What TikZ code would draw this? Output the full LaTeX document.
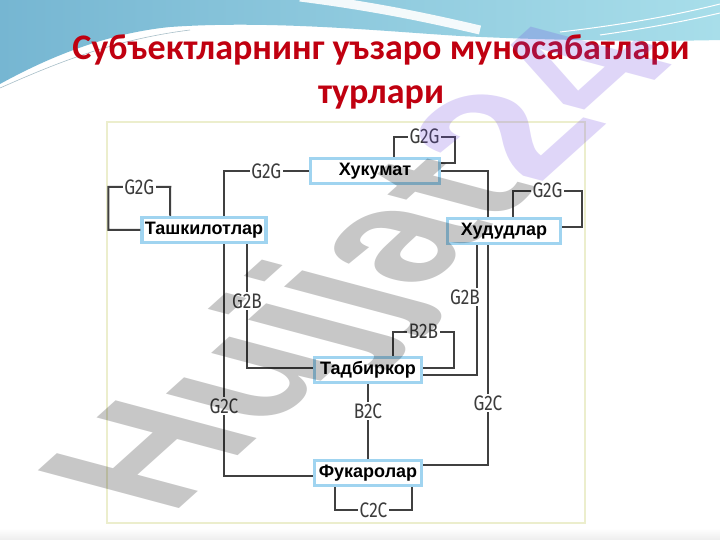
\documentclass[tikz,border=0pt]{standalone}
\usepackage{fontspec}
\setmainfont{Liberation Sans}
\newfontfamily\titlefont{Carlito}
\newfontfamily\tagfont[FakeStretch=0.82]{Fira Sans}
\definecolor{boxblue}{RGB}{160,212,240}
\definecolor{linecol}{RGB}{64,64,64}
\definecolor{tagcol}{RGB}{60,60,60}
\definecolor{titlered}{RGB}{192,0,16}
\definecolor{framecol}{RGB}{236,238,205}
\definecolor{waveleft}{RGB}{118,182,210}
\definecolor{waveright}{RGB}{168,222,234}
\definecolor{wmpurple}{RGB}{110,70,225}

\begin{document}
\begin{tikzpicture}[x=1pt, y=-1pt,
    box/.style={draw=boxblue, line width=3.5pt, fill=white, minimum height=25pt, inner sep=2pt, font=\bfseries\fontsize{18}{18}\selectfont},
    tag/.style={fill=white, text=tagcol, inner sep=1.5pt, font=\tagfont\fontsize{21}{21}\selectfont},
    link/.style={draw=linecol, line width=2pt}]
    \useasboundingbox (0,0) rectangle (720,540);
    \fill[white] (0,0) rectangle (720,540);
    \shade[top color=white, bottom color=black!7] (0,528) rectangle (720,540);

    % slide header wave
    \shade[left color=waveleft, right color=waveright] (0,0) -- (720,0) -- (720,40) .. controls (640,42) and (540,40) .. (460,36) .. controls (380,31) and (270,20) .. (170,27) .. controls (100,34) and (40,62) .. (0,84) -- cycle;
    \draw[waveleft!70!black, line width=0.6pt, opacity=0.5] (0,88) .. controls (50,66) and (110,40) .. (190,30);
    \draw[white, line width=9pt, opacity=0.9] (300,-3) .. controls (370,6) and (420,16) .. (480,30);
    \draw[white, line width=1pt] (560,32) .. controls (630,24) and (680,14) .. (720,4);
    \draw[white, line width=1pt] (600,35) .. controls (650,28) and (690,20) .. (720,13);

    \node[font=\titlefont\bfseries\fontsize{36}{44}\selectfont, text=titlered, align=center] at (381,72) (title) {Субъектларнинг уъзаро муносабатлари\\турлари};

    \draw[framecol, line width=1.5pt] (107,122) rectangle (585,523);

    \node[box, minimum width=129pt] at (375,171) (G) {Хукумат};
    \node[box, minimum width=124pt] at (204,230) (O) {Ташкилотлар};
    \node[box, minimum width=113pt] at (504,231) (R) {Худудлар};
    \node[box, minimum width=107pt] at (368,370) (B) {Тадбиркор};
    \node[box, minimum width=107pt] at (368,473) (C) {Фукаролар};

    % G2G
    \draw[link] (O.west) -- ++(-32,0) |- node[tag, pos=0.75] {G2G} ++(62,-43) -- ([xshift=-34pt]O.north);
    \draw[link] (G.west) -| node[tag, pos=0.25] {G2G} ([xshift=20pt]O.north);
    \draw[link] ([xshift=19pt]G.north) |- node[tag, pos=0.75] {G2G} ++(61,-20) |- ([yshift=8pt]G.east);
    \draw[link] (G.east) -| ([xshift=-16pt]R.north);
    \draw[link] ([xshift=9pt]R.north) |- node[tag, pos=0.75] {G2G} ++(69,-26) |- ([yshift=4pt]R.east);

    % G2B, G2C
    \draw[link] ([xshift=20pt]O.south) |- node[tag, pos=0.35] {G2C} ([yshift=-3pt]C.west);
    \draw[link] ([xshift=43pt]O.south) |- node[tag, pos=0.23] {G2B} ([yshift=2pt]B.west);
    \draw[link] ([xshift=-27pt]R.south) |- node[tag, pos=0.2, xshift=-12pt] {G2B} ([yshift=-5pt]B.east);
    \draw[link] ([xshift=-16pt]R.south) |- node[tag, pos=0.36] {G2C} ([yshift=8pt]C.east);

    % B2B, B2C, C2C
    \draw[link] ([xshift=25pt]B.north) |- node[tag, pos=0.75] {B2B} ++(61,-24) |- ([yshift=2pt]B.east);
    \draw[link] (B) -- node[tag, pos=0.36] {B2C} (C);
    \draw[link] ([xshift=-33pt]C.south) |- node[tag, pos=0.75] {C2C} ++(77,23) -- ([xshift=44pt]C.south);

    % watermark
    \node[anchor=base, rotate=42, xslant=-0.65, font=\bfseries\fontsize{178}{178}\selectfont, text opacity=0.22] at (428,285) (W) {\textcolor{black}{Hujjat}\textcolor{wmpurple}{24}};
\end{tikzpicture}
\end{document}
